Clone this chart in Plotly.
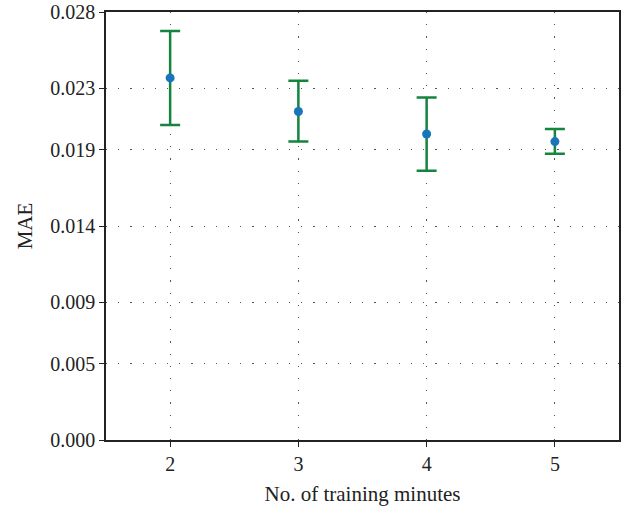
import plotly.graph_objects as go

minutes = [2, 3, 4, 5]
mae = [0.02369, 0.02149, 0.02002, 0.01952]
err_plus = [0.00306, 0.00201, 0.00238, 0.00083]
err_minus = [0.00308, 0.00197, 0.00240, 0.00079]

y_ticks = [0.000, 0.005, 0.009, 0.014, 0.019, 0.023, 0.028]
y_tick_labels = ["0.000", "0.005", "0.009", "0.014", "0.019", "0.023", "0.028"]
x_ticks = [2, 3, 4, 5]

font_family = "Liberation Serif"

fig = go.Figure()
fig.add_trace(go.Scatter(
    x=minutes, y=mae, mode="markers",
    marker=dict(color="#1a74bb", size=9),
    error_y=dict(type="data", symmetric=False, array=err_plus, arrayminus=err_minus,
                 color="#15843e", thickness=2.5, width=10),
    showlegend=False,
))

axis_common = dict(
    showline=True, mirror=True, linecolor="#222222", linewidth=1.5,
    ticks="outside", ticklen=5, tickcolor="#222222", tickwidth=1.2,
    showgrid=True, gridcolor="#555555", gridwidth=1.2, griddash="1.2px,11px",
    zeroline=False, automargin=False,
    tickfont=dict(family=font_family, size=20, color="#222222"),
)

fig.update_xaxes(
    range=[1.5, 5.5], tickvals=x_ticks,
    title=dict(text="No. of training minutes", font=dict(family=font_family, size=21, color="#222222"), standoff=13),
    **axis_common,
)
fig.update_yaxes(
    range=[0, 0.028], tickvals=y_ticks, ticktext=y_tick_labels,
    title=dict(text="MAE", font=dict(family=font_family, size=21, color="#222222"), standoff=12),
    **axis_common,
)

fig.update_layout(
    width=632, height=509,
    margin=dict(l=106, r=13, t=12, b=69),
    plot_bgcolor="white", paper_bgcolor="white",
)

fig.write_html("out.html")
